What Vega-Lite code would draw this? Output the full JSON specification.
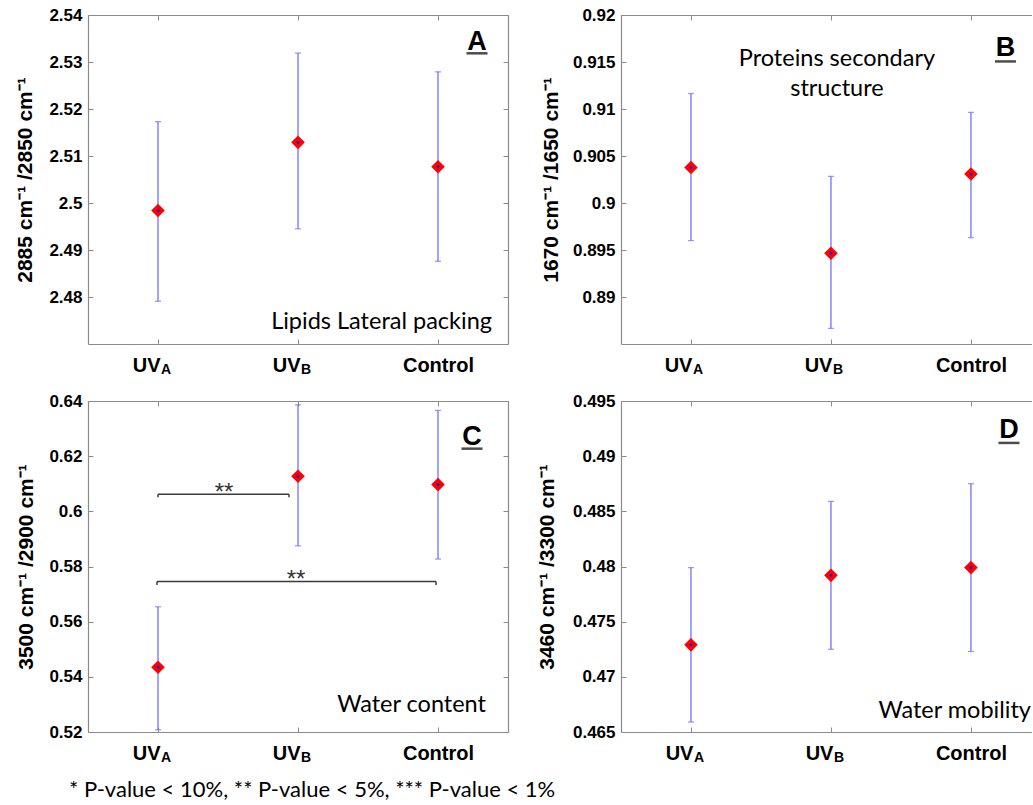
{
 "$schema": "https://vega.github.io/schema/vega-lite/v6.json",
 "padding": {"left": 14, "top": 6, "right": 0, "bottom": 0},
 "bounds": "flush",
 "columns": 2,
 "spacing": {"row": 57, "column": 113},
 "config": {
  "view": {"stroke": null},
  "axis": {"grid": false, "domainColor": "#8a8a8a", "domainWidth": 1.2, "tickColor": "#8a8a8a", "tickSize": -5, "tickWidth": 1,
   "labelFont": "Liberation Sans", "labelFontWeight": "bold", "labelColor": "#000", "labelFontSize": 17,
   "titleFont": "Liberation Sans", "titleFontWeight": "bold", "titleColor": "#000", "titleFontSize": 21}
 },
 "datasets": {
  "a": [{"group": "UVA", "mean": 2.4984, "lo": 2.4791, "hi": 2.5173}, {"group": "UVB", "mean": 2.5129, "lo": 2.4945, "hi": 2.5319}, {"group": "Control", "mean": 2.5077, "lo": 2.4876, "hi": 2.5279}],
  "b": [{"group": "UVA", "mean": 0.90378, "lo": 0.896, "hi": 0.91165}, {"group": "UVB", "mean": 0.89466, "lo": 0.88666, "hi": 0.90283}, {"group": "Control", "mean": 0.90309, "lo": 0.89632, "hi": 0.90964}],
  "c": [{"group": "UVA", "mean": 0.5435, "lo": 0.5208, "hi": 0.5654}, {"group": "UVB", "mean": 0.6127, "lo": 0.5875, "hi": 0.6386}, {"group": "Control", "mean": 0.6097, "lo": 0.5827, "hi": 0.6366}],
  "d": [{"group": "UVA", "mean": 0.4729, "lo": 0.4659, "hi": 0.4799}, {"group": "UVB", "mean": 0.4792, "lo": 0.4725, "hi": 0.4859}, {"group": "Control", "mean": 0.4799, "lo": 0.4723, "hi": 0.4875}],
  "subs": [{"group": "UVA", "sub": "A"}, {"group": "UVB", "sub": "B"}]
 },
 "concat": [
  {
   "width": 420, "height": 329,
   "data": {"name": "a"},
   "resolve": {"axis": {"x": "independent", "y": "independent"}},
   "layer": [
    {"mark": {"type": "rule", "color": "#7070ff", "strokeWidth": 1.3},
     "encoding": {
      "x": {"field": "group", "type": "nominal", "scale": {"type": "point", "domain": ["UVA", "UVB", "Control"], "padding": 0.5},
       "axis": {"title": null, "orient": "bottom", "labelAngle": 0, "labelFontSize": 20, "labelPadding": 16,
        "labelExpr": "datum.value == 'Control' ? 'Control' : 'UV'",
        "labelAlign": {"condition": {"test": "datum.value != 'Control'", "value": "right"}, "value": "center"},
        "labelOffset": {"condition": {"test": "datum.value != 'Control'", "value": 2}, "value": 0}}},
      "y": {"field": "lo", "type": "quantitative", "scale": {"domain": [2.47, 2.54], "nice": false, "zero": false},
       "axis": {"title": "2885 cm⁻¹ /2850 cm⁻¹", "values": [2.48, 2.49, 2.5, 2.51, 2.52, 2.53, 2.54], "format": ".2~f", "labelPadding": 11, "titlePadding": 3, "minExtent": 50, "maxExtent": 50}},
      "y2": {"field": "hi"}}},
    {"mark": {"type": "tick", "orient": "horizontal", "color": "#7070ff", "size": 6, "thickness": 1.3},
     "encoding": {
      "x": {"field": "group", "type": "nominal", "axis": {"title": null, "orient": "top", "labels": false}},
      "y": {"field": "lo", "type": "quantitative", "axis": {"title": null, "orient": "right", "labels": false, "values": [2.48, 2.49, 2.5, 2.51, 2.52, 2.53, 2.54]}}}},
    {"mark": {"type": "tick", "orient": "horizontal", "color": "#7070ff", "size": 6, "thickness": 1.3},
     "encoding": {"x": {"field": "group", "type": "nominal", "axis": null}, "y": {"field": "hi", "type": "quantitative", "axis": null}}},
    {"mark": {"type": "point", "shape": "diamond", "filled": true, "color": "#ff0000", "size": 185, "opacity": 1},
     "encoding": {"x": {"field": "group", "type": "nominal", "axis": null}, "y": {"field": "mean", "type": "quantitative", "axis": null}}},
    {"mark": {"type": "point", "shape": "circle", "filled": true, "color": "#0000ff", "size": 7, "opacity": 1},
     "encoding": {"x": {"field": "group", "type": "nominal", "axis": null}, "y": {"field": "mean", "type": "quantitative", "axis": null}}},
    {"data": {"name": "subs"},
     "mark": {"type": "text", "align": "left", "baseline": "alphabetic", "dx": 3, "dy": 30, "font": "Liberation Sans", "fontWeight": "bold", "fontSize": 14, "color": "#000"},
     "encoding": {"x": {"field": "group", "type": "nominal", "axis": null}, "y": {"datum": 2.47, "type": "quantitative", "axis": null}, "text": {"field": "sub"}}},
    {"data": {"values": [{"group": "Control", "y": 2.53255, "label": "A"}]},
     "mark": {"type": "text", "align": "center", "baseline": "alphabetic", "dx": 39, "font": "Liberation Sans", "fontWeight": "bold", "fontSize": 27, "color": "#000"},
     "encoding": {"x": {"field": "group", "type": "nominal", "axis": null}, "y": {"field": "y", "type": "quantitative", "axis": null}, "text": {"field": "label"}}},
    {"data": {"values": [{"group": "Control", "y": 2.53185}]},
     "mark": {"type": "tick", "orient": "horizontal", "xOffset": 39, "size": 21, "thickness": 2.5, "color": "#000"},
     "encoding": {"x": {"field": "group", "type": "nominal", "axis": null}, "y": {"field": "y", "type": "quantitative", "axis": null}}},
    {"data": {"values": [{"group": "Control", "y": 2.47468, "label": "Lipids Lateral packing"}]},
     "mark": {"type": "text", "align": "right", "baseline": "middle", "dx": 54, "font": "Lato", "fontSize": 23.5, "color": "#000"},
     "encoding": {"x": {"field": "group", "type": "nominal", "axis": null}, "y": {"field": "y", "type": "quantitative", "axis": null}, "text": {"field": "label"}}}
   ]
  },
  {
   "width": 411, "height": 329,
   "data": {"name": "b"},
   "resolve": {"axis": {"x": "independent", "y": "independent"}},
   "layer": [
    {"mark": {"type": "rule", "color": "#7070ff", "strokeWidth": 1.3},
     "encoding": {
      "x": {"field": "group", "type": "nominal", "scale": {"type": "point", "domain": ["UVA", "UVB", "Control"], "padding": 0.468, "align": 0.534},
       "axis": {"title": null, "orient": "bottom", "labelAngle": 0, "labelFontSize": 20, "labelPadding": 16,
        "labelExpr": "datum.value == 'Control' ? 'Control' : 'UV'",
        "labelAlign": {"condition": {"test": "datum.value != 'Control'", "value": "right"}, "value": "center"},
        "labelOffset": {"condition": {"test": "datum.value != 'Control'", "value": 1}, "value": 0}}},
      "y": {"field": "lo", "type": "quantitative", "scale": {"domain": [0.885, 0.92], "nice": false, "zero": false},
       "axis": {"title": "1670 cm⁻¹ /1650 cm⁻¹", "values": [0.89, 0.895, 0.9, 0.905, 0.91, 0.915, 0.92], "format": ".3~f", "labelPadding": 11, "titlePadding": 10, "minExtent": 50, "maxExtent": 50}},
      "y2": {"field": "hi"}}},
    {"mark": {"type": "tick", "orient": "horizontal", "color": "#7070ff", "size": 6, "thickness": 1.3},
     "encoding": {
      "x": {"field": "group", "type": "nominal", "axis": {"title": null, "orient": "top", "labels": false}},
      "y": {"field": "lo", "type": "quantitative", "axis": null}}},
    {"mark": {"type": "tick", "orient": "horizontal", "color": "#7070ff", "size": 6, "thickness": 1.3},
     "encoding": {"x": {"field": "group", "type": "nominal", "axis": null}, "y": {"field": "hi", "type": "quantitative", "axis": null}}},
    {"mark": {"type": "point", "shape": "diamond", "filled": true, "color": "#ff0000", "size": 185, "opacity": 1},
     "encoding": {"x": {"field": "group", "type": "nominal", "axis": null}, "y": {"field": "mean", "type": "quantitative", "axis": null}}},
    {"mark": {"type": "point", "shape": "circle", "filled": true, "color": "#0000ff", "size": 7, "opacity": 1},
     "encoding": {"x": {"field": "group", "type": "nominal", "axis": null}, "y": {"field": "mean", "type": "quantitative", "axis": null}}},
    {"data": {"name": "subs"},
     "mark": {"type": "text", "align": "left", "baseline": "alphabetic", "dx": 2, "dy": 30, "font": "Liberation Sans", "fontWeight": "bold", "fontSize": 14, "color": "#000"},
     "encoding": {"x": {"field": "group", "type": "nominal", "axis": null}, "y": {"datum": 0.885, "type": "quantitative", "axis": null}, "text": {"field": "sub"}}},
    {"data": {"values": [{"group": "Control", "y": 0.91562, "label": "B"}]},
     "mark": {"type": "text", "align": "center", "baseline": "alphabetic", "dx": 34.5, "font": "Liberation Sans", "fontWeight": "bold", "fontSize": 27, "color": "#000"},
     "encoding": {"x": {"field": "group", "type": "nominal", "axis": null}, "y": {"field": "y", "type": "quantitative", "axis": null}, "text": {"field": "label"}}},
    {"data": {"values": [{"group": "Control", "y": 0.91506}]},
     "mark": {"type": "tick", "orient": "horizontal", "xOffset": 34.5, "size": 21, "thickness": 2.5, "color": "#000"},
     "encoding": {"x": {"field": "group", "type": "nominal", "axis": null}, "y": {"field": "y", "type": "quantitative", "axis": null}}},
    {"data": {"values": [{"group": "UVB", "y": 0.91457, "label": ["Proteins secondary", "structure"]}]},
     "mark": {"type": "text", "align": "center", "baseline": "alphabetic", "dx": 6, "lineHeight": 30, "font": "Lato", "fontSize": 23.5, "color": "#000"},
     "encoding": {"x": {"field": "group", "type": "nominal", "axis": null}, "y": {"field": "y", "type": "quantitative", "axis": null}, "text": {"field": "label"}}}
   ]
  },
  {
   "width": 420, "height": 331,
   "data": {"name": "c"},
   "resolve": {"axis": {"x": "independent", "y": "independent"}},
   "title": {"text": "* P-value < 10%, ** P-value < 5%, *** P-value < 1%", "orient": "bottom", "anchor": "start", "frame": "group", "dx": -19, "offset": 15, "font": "Lato", "fontSize": 22, "fontWeight": "normal", "color": "#000"},
   "layer": [
    {"mark": {"type": "rule", "color": "#7070ff", "strokeWidth": 1.3},
     "encoding": {
      "x": {"field": "group", "type": "nominal", "scale": {"type": "point", "domain": ["UVA", "UVB", "Control"], "padding": 0.5},
       "axis": {"title": null, "orient": "bottom", "labelAngle": 0, "labelFontSize": 20, "labelPadding": 16,
        "labelExpr": "datum.value == 'Control' ? 'Control' : 'UV'",
        "labelAlign": {"condition": {"test": "datum.value != 'Control'", "value": "right"}, "value": "center"},
        "labelOffset": {"condition": {"test": "datum.value != 'Control'", "value": 2}, "value": 0}}},
      "y": {"field": "lo", "type": "quantitative", "scale": {"domain": [0.52, 0.64], "nice": false, "zero": false},
       "axis": {"title": "3500 cm⁻¹ /2900 cm⁻¹", "values": [0.52, 0.54, 0.56, 0.58, 0.6, 0.62, 0.64], "format": ".2~f", "labelPadding": 11, "titlePadding": 2, "minExtent": 50, "maxExtent": 50}},
      "y2": {"field": "hi"}}},
    {"mark": {"type": "tick", "orient": "horizontal", "color": "#7070ff", "size": 6, "thickness": 1.3},
     "encoding": {
      "x": {"field": "group", "type": "nominal", "axis": {"title": null, "orient": "top", "labels": false}},
      "y": {"field": "lo", "type": "quantitative", "axis": {"title": null, "orient": "right", "labels": false, "values": [0.52, 0.54, 0.56, 0.58, 0.6, 0.62, 0.64]}}}},
    {"mark": {"type": "tick", "orient": "horizontal", "color": "#7070ff", "size": 6, "thickness": 1.3},
     "encoding": {"x": {"field": "group", "type": "nominal", "axis": null}, "y": {"field": "hi", "type": "quantitative", "axis": null}}},
    {"mark": {"type": "point", "shape": "diamond", "filled": true, "color": "#ff0000", "size": 185, "opacity": 1},
     "encoding": {"x": {"field": "group", "type": "nominal", "axis": null}, "y": {"field": "mean", "type": "quantitative", "axis": null}}},
    {"mark": {"type": "point", "shape": "circle", "filled": true, "color": "#0000ff", "size": 7, "opacity": 1},
     "encoding": {"x": {"field": "group", "type": "nominal", "axis": null}, "y": {"field": "mean", "type": "quantitative", "axis": null}}},
    {"data": {"values": [{"from": "UVA", "to": "UVB", "y": 0.6062, "y_end": 0.6051, "label": "**"}]},
     "layer": [
      {"mark": {"type": "rule", "color": "#3a3a3a", "strokeWidth": 1.5, "x2Offset": -9},
       "encoding": {"x": {"field": "from", "type": "nominal", "axis": null}, "x2": {"field": "to"}, "y": {"field": "y", "type": "quantitative", "axis": null}}},
      {"mark": {"type": "rule", "color": "#3a3a3a", "strokeWidth": 1.5},
       "encoding": {"x": {"field": "from", "type": "nominal", "axis": null}, "y": {"field": "y", "type": "quantitative", "axis": null}, "y2": {"field": "y_end"}}},
      {"mark": {"type": "rule", "color": "#3a3a3a", "strokeWidth": 1.5, "xOffset": -9},
       "encoding": {"x": {"field": "to", "type": "nominal", "axis": null}, "y": {"field": "y", "type": "quantitative", "axis": null}, "y2": {"field": "y_end"}}},
      {"mark": {"type": "text", "align": "center", "baseline": "alphabetic", "dx": 66, "dy": 6, "font": "Liberation Sans", "fontSize": 24, "color": "#333"},
       "encoding": {"x": {"field": "from", "type": "nominal", "axis": null}, "y": {"field": "y", "type": "quantitative", "axis": null}, "text": {"field": "label"}}}
     ]},
    {"data": {"values": [{"from": "UVA", "to": "Control", "y": 0.5746, "y_end": 0.5733, "label": "**"}]},
     "layer": [
      {"mark": {"type": "rule", "color": "#3a3a3a", "strokeWidth": 1.5, "xOffset": -1, "x2Offset": -2},
       "encoding": {"x": {"field": "from", "type": "nominal", "axis": null}, "x2": {"field": "to"}, "y": {"field": "y", "type": "quantitative", "axis": null}}},
      {"mark": {"type": "rule", "color": "#3a3a3a", "strokeWidth": 1.5, "xOffset": -1},
       "encoding": {"x": {"field": "from", "type": "nominal", "axis": null}, "y": {"field": "y", "type": "quantitative", "axis": null}, "y2": {"field": "y_end"}}},
      {"mark": {"type": "rule", "color": "#3a3a3a", "strokeWidth": 1.5, "xOffset": -2},
       "encoding": {"x": {"field": "to", "type": "nominal", "axis": null}, "y": {"field": "y", "type": "quantitative", "axis": null}, "y2": {"field": "y_end"}}},
      {"mark": {"type": "text", "align": "center", "baseline": "alphabetic", "dx": 138, "dy": 6, "font": "Liberation Sans", "fontSize": 24, "color": "#333"},
       "encoding": {"x": {"field": "from", "type": "nominal", "axis": null}, "y": {"field": "y", "type": "quantitative", "axis": null}, "text": {"field": "label"}}}
     ]},
    {"data": {"name": "subs"},
     "mark": {"type": "text", "align": "left", "baseline": "alphabetic", "dx": 3, "dy": 30, "font": "Liberation Sans", "fontWeight": "bold", "fontSize": 14, "color": "#000"},
     "encoding": {"x": {"field": "group", "type": "nominal", "axis": null}, "y": {"datum": 0.52, "type": "quantitative", "axis": null}, "text": {"field": "sub"}}},
    {"data": {"values": [{"group": "Control", "y": 0.62406, "label": "C"}]},
     "mark": {"type": "text", "align": "center", "baseline": "alphabetic", "dx": 34, "font": "Liberation Sans", "fontWeight": "bold", "fontSize": 27, "color": "#000"},
     "encoding": {"x": {"field": "group", "type": "nominal", "axis": null}, "y": {"field": "y", "type": "quantitative", "axis": null}, "text": {"field": "label"}}},
    {"data": {"values": [{"group": "Control", "y": 0.62272}]},
     "mark": {"type": "tick", "orient": "horizontal", "xOffset": 34, "size": 21, "thickness": 2.5, "color": "#000"},
     "encoding": {"x": {"field": "group", "type": "nominal", "axis": null}, "y": {"field": "y", "type": "quantitative", "axis": null}}},
    {"data": {"values": [{"group": "Control", "y": 0.5299, "label": "Water content"}]},
     "mark": {"type": "text", "align": "right", "baseline": "middle", "dx": 48, "font": "Lato", "fontSize": 23.5, "color": "#000"},
     "encoding": {"x": {"field": "group", "type": "nominal", "axis": null}, "y": {"field": "y", "type": "quantitative", "axis": null}, "text": {"field": "label"}}}
   ]
  },
  {
   "width": 411, "height": 331,
   "data": {"name": "d"},
   "resolve": {"axis": {"x": "independent", "y": "independent"}},
   "layer": [
    {"mark": {"type": "rule", "color": "#7070ff", "strokeWidth": 1.3},
     "encoding": {
      "x": {"field": "group", "type": "nominal", "scale": {"type": "point", "domain": ["UVA", "UVB", "Control"], "padding": 0.468, "align": 0.534},
       "axis": {"title": null, "orient": "bottom", "labelAngle": 0, "labelFontSize": 20, "labelPadding": 16,
        "labelExpr": "datum.value == 'Control' ? 'Control' : 'UV'",
        "labelAlign": {"condition": {"test": "datum.value != 'Control'", "value": "right"}, "value": "center"},
        "labelOffset": {"condition": {"test": "datum.value != 'Control'", "value": 2}, "value": 0}}},
      "y": {"field": "lo", "type": "quantitative", "scale": {"domain": [0.465, 0.495], "nice": false, "zero": false},
       "axis": {"title": "3460 cm⁻¹ /3300 cm⁻¹", "values": [0.465, 0.47, 0.475, 0.48, 0.485, 0.49, 0.495], "format": ".3~f", "labelPadding": 11, "titlePadding": 14, "minExtent": 50, "maxExtent": 50}},
      "y2": {"field": "hi"}}},
    {"mark": {"type": "tick", "orient": "horizontal", "color": "#7070ff", "size": 6, "thickness": 1.3},
     "encoding": {
      "x": {"field": "group", "type": "nominal", "axis": {"title": null, "orient": "top", "labels": false}},
      "y": {"field": "lo", "type": "quantitative", "axis": null}}},
    {"mark": {"type": "tick", "orient": "horizontal", "color": "#7070ff", "size": 6, "thickness": 1.3},
     "encoding": {"x": {"field": "group", "type": "nominal", "axis": null}, "y": {"field": "hi", "type": "quantitative", "axis": null}}},
    {"mark": {"type": "point", "shape": "diamond", "filled": true, "color": "#ff0000", "size": 185, "opacity": 1},
     "encoding": {"x": {"field": "group", "type": "nominal", "axis": null}, "y": {"field": "mean", "type": "quantitative", "axis": null}}},
    {"mark": {"type": "point", "shape": "circle", "filled": true, "color": "#0000ff", "size": 7, "opacity": 1},
     "encoding": {"x": {"field": "group", "type": "nominal", "axis": null}, "y": {"field": "mean", "type": "quantitative", "axis": null}}},
    {"data": {"name": "subs"},
     "mark": {"type": "text", "align": "left", "baseline": "alphabetic", "dx": 3, "dy": 30, "font": "Liberation Sans", "fontWeight": "bold", "fontSize": 14, "color": "#000"},
     "encoding": {"x": {"field": "group", "type": "nominal", "axis": null}, "y": {"datum": 0.465, "type": "quantitative", "axis": null}, "text": {"field": "sub"}}},
    {"data": {"values": [{"group": "Control", "y": 0.49165, "label": "D"}]},
     "mark": {"type": "text", "align": "center", "baseline": "alphabetic", "dx": 38, "font": "Liberation Sans", "fontWeight": "bold", "fontSize": 27, "color": "#000"},
     "encoding": {"x": {"field": "group", "type": "nominal", "axis": null}, "y": {"field": "y", "type": "quantitative", "axis": null}, "text": {"field": "label"}}},
    {"data": {"values": [{"group": "Control", "y": 0.4912}]},
     "mark": {"type": "tick", "orient": "horizontal", "xOffset": 38, "size": 21, "thickness": 2.5, "color": "#000"},
     "encoding": {"x": {"field": "group", "type": "nominal", "axis": null}, "y": {"field": "y", "type": "quantitative", "axis": null}}},
    {"data": {"values": [{"group": "Control", "y": 0.46688, "label": "Water mobility"}]},
     "mark": {"type": "text", "align": "right", "baseline": "middle", "dx": 60, "font": "Lato", "fontSize": 23.5, "color": "#000"},
     "encoding": {"x": {"field": "group", "type": "nominal", "axis": null}, "y": {"field": "y", "type": "quantitative", "axis": null}, "text": {"field": "label"}}}
   ]
  }
 ]
}
